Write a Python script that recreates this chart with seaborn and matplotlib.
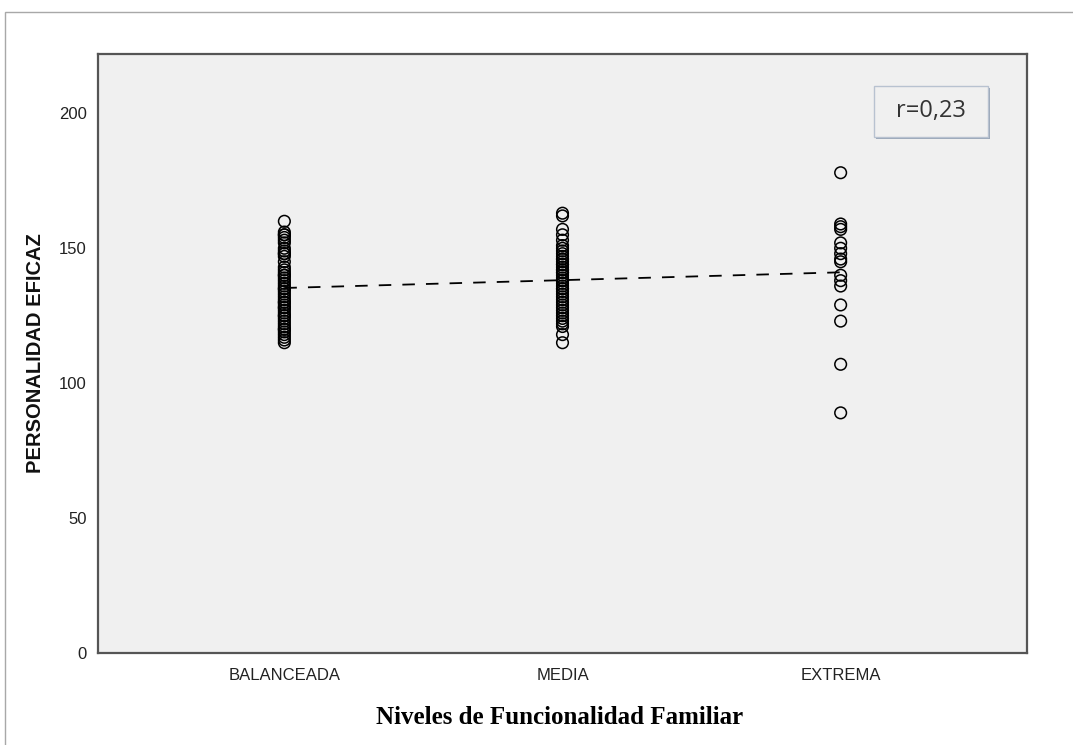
import pandas as pd
import numpy as np
import matplotlib
matplotlib.use("Agg")
import matplotlib.pyplot as plt
import seaborn as sns
from matplotlib.patches import Rectangle

niveles = ["BALANCEADA", "MEDIA", "EXTREMA"]

balanceada = [160, 156, 155, 155, 154, 153, 152, 150, 149, 148,
              148, 147, 145, 143, 142, 141, 140, 140, 139, 138,
              137, 136, 135, 135, 134, 133, 132, 131, 130, 130,
              129, 128, 128, 127, 126, 125, 125, 124, 123, 122,
              121, 120, 120, 119, 118, 117, 116, 115]
media = [163, 162, 157, 155, 153, 151, 150, 149, 148, 147,
         146, 146, 145, 144, 144, 143, 142, 142, 141, 141,
         140, 139, 138, 138, 137, 136, 135, 135, 134, 133,
         132, 131, 130, 129, 128, 127, 126, 125, 124, 123,
         122, 121, 118, 115]
extrema = [178, 159, 158, 157, 152, 150, 148, 146, 145, 140,
           138, 136, 129, 123, 107, 89]

y_ticks = [0, 50, 100, 150, 200]
r_text = "r=0,23"

# long table, one row per subject
df = pd.DataFrame({
    "nivel": ["BALANCEADA"] * len(balanceada) + ["MEDIA"] * len(media) + ["EXTREMA"] * len(extrema),
    "valor": balanceada + media + extrema,
})
df["pos"] = df["nivel"].map({n: i + 1 for i, n in enumerate(niveles)})

sns.set_style("white")
plt.rcParams["font.family"] = ["Liberation Sans", "DejaVu Sans"]
plt.rcParams["lines.scale_dashes"] = False

fig = plt.figure(figsize=(10.73, 7.45), dpi=100)
ax = fig.add_axes([98 / 1073, 1 - 653 / 745, 929 / 1073, 599 / 745])
ax.set_facecolor("#f0f0f0")

sns.scatterplot(data=df, x="pos", y="valor", ax=ax, marker="o", s=70,
                facecolor="none", edgecolor="black", linewidth=1.1, zorder=3)
sns.regplot(data=df, x="pos", y="valor", ax=ax, scatter=False, ci=None, truncate=True,
            line_kws={"color": "black", "linewidth": 1.3, "linestyle": (0, (9, 8)), "zorder": 2})

ax.set_xlim(0.33, 3.67)
ax.set_ylim(0, 222)
ax.set_xticks([1, 2, 3])
ax.set_xticklabels(niveles)
ax.set_yticks(y_ticks)
ax.tick_params(axis="both", direction="out", length=5, width=1.3, color="#555555",
               labelsize=12, labelcolor="#222222", pad=3)
ax.tick_params(axis="x", pad=6)

for sp in ax.spines.values():
    sp.set_color("#555555")
    sp.set_linewidth(1.6)

ax.set_xlabel("")
ax.set_ylabel("PERSONALIDAD EFICAZ", fontsize=14.5, fontweight="bold", color="#111111", labelpad=10)

fig.text(560 / 1073, 1 - 717 / 745, "Niveles de Funcionalidad Familiar", ha="center", va="center",
         fontsize=18, fontweight="bold", family=["Liberation Serif", "DejaVu Serif"], color="black")

# r box (with a little shadow like the original)
bx0, bx1 = (874 - 98) / 929, (988 - 98) / 929
by0, by1 = (653 - 137) / 599, (653 - 86) / 599
ax.add_patch(Rectangle((bx0 + 0.002, by0 - 0.004), bx1 - bx0, by1 - by0, transform=ax.transAxes,
                       facecolor="#9aa6b8", edgecolor="none", zorder=4))
ax.add_patch(Rectangle((bx0, by0), bx1 - bx0, by1 - by0, transform=ax.transAxes,
                       facecolor="#f0f0f0", edgecolor="#b8c2d0", linewidth=1.0, zorder=5))
ax.text((bx0 + bx1) / 2, (by0 + by1) / 2, r_text, transform=ax.transAxes, ha="center", va="center",
        fontsize=17, family=["Open Sans", "DejaVu Sans"], color="#333333", zorder=6)

# outer frame lines (top and left of the exported image)
fig.add_artist(Rectangle((5 / 1073, -0.5), 2, 0.5 + 1 - 12 / 745, transform=fig.transFigure,
                         facecolor="none", edgecolor="#a8a8a8", linewidth=1.0))

fig.savefig("out.png", dpi=100)
